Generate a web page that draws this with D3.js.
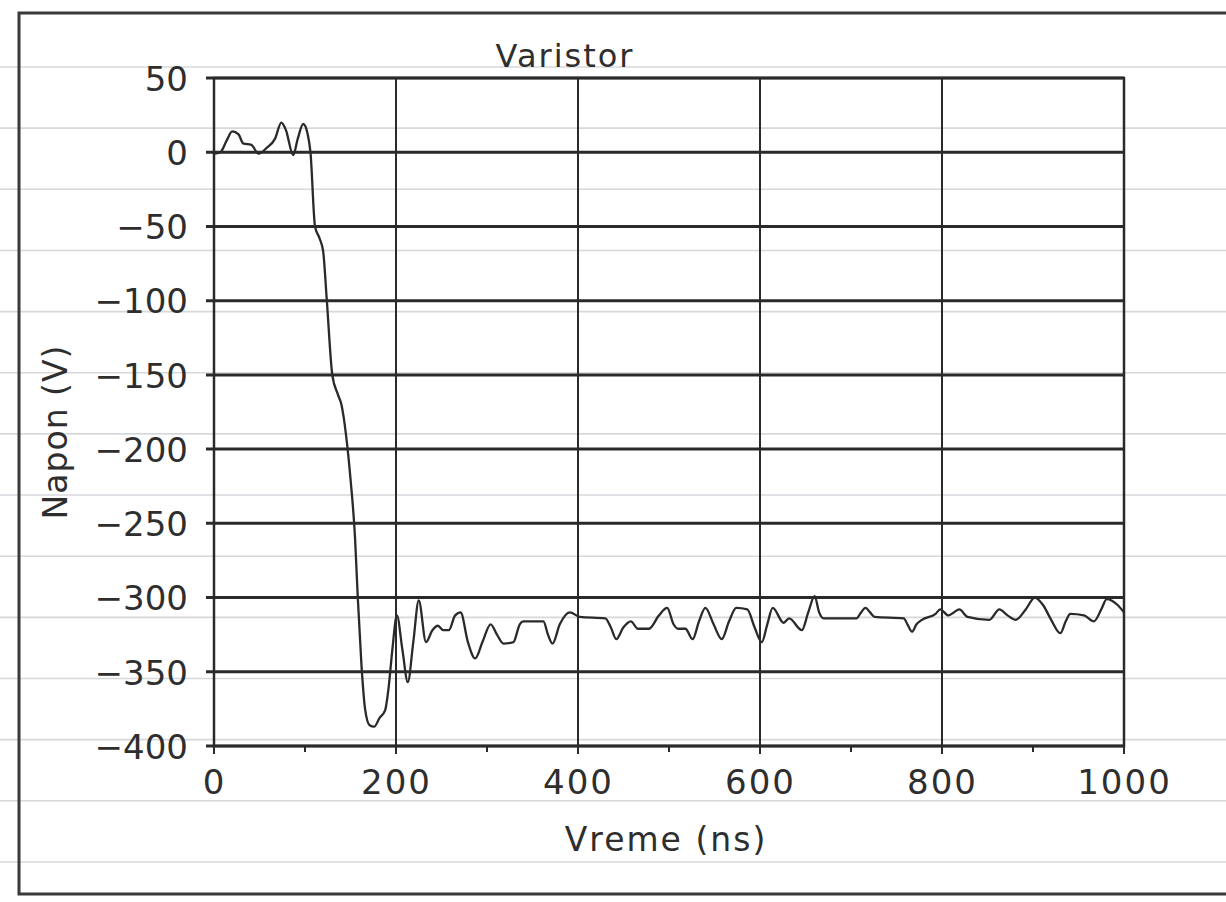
<!DOCTYPE html>
<html>
<head>
<meta charset="utf-8">
<script src="https://cdn.jsdelivr.net/npm/d3@7"></script>
<style>
  html, body { margin: 0; padding: 0; background: #ffffff; }
  svg { display: block; }
  text { font-family: "DejaVu Sans", "Liberation Sans", sans-serif; fill: #2e2e2e; }
</style>
</head>
<body>
<svg id="chart" width="1226" height="902"></svg>
<script>
// ---------------- data ----------------
const titleText = "Varistor";
const xLabelText = "Vreme (ns)";
const yLabelText = "Napon (V)";

const xTicks = [0, 200, 400, 600, 800, 1000];
const xMinorTicks = [100, 300, 500, 700, 900];
const yTicks = [50, 0, -50, -100, -150, -200, -250, -300, -350, -400];

const timeNs = [
  0, 7, 14, 20, 27, 32, 41, 49, 58, 67, 74, 79, 87, 92, 98, 103, 106,
  111, 116, 120, 124, 130, 136, 140, 145, 150, 155, 158, 162, 166, 171, 176, 182, 188,
  192, 196, 201, 207, 213, 219, 225, 233, 240, 246, 252, 258, 265, 271, 279, 287, 295,
  304, 311, 318, 329, 336, 340, 362, 367, 372, 380, 391, 402,
  430, 436, 442, 450, 458, 466, 478, 489, 498, 505, 510, 518, 526, 533, 540, 549, 558,
  566, 574, 586, 594, 602, 608, 614, 626, 632, 646, 653, 660, 665, 670, 706, 711, 716,
  721, 726, 758, 762, 767, 772, 778, 793, 798, 807, 813, 819, 828, 852, 863, 872, 881,
  892, 902, 911, 920, 930, 936, 941, 956, 967, 975, 981, 993, 1000
];
const voltage = [
  -1, 0, 8, 14, 12, 6, 5, -1, 3, 9, 20, 15, -2, 9, 19, 12, 0,
  -50, -58, -67, -100, -150, -163, -170, -190, -220, -260, -300, -345, -375, -386, -387, -381, -376,
  -360, -335, -312, -335, -357, -330, -302, -330, -322, -319, -322, -322, -312, -310, -330, -341, -330,
  -318, -325, -331, -330, -318, -316, -316, -325, -331, -318, -310, -313,
  -314, -320, -328, -320, -316, -321, -321, -312, -307, -318, -321, -321, -328, -316, -307, -318, -328,
  -316, -307, -308, -320, -330, -318, -307, -317, -314, -322, -310, -299, -310, -314, -314, -310, -307,
  -310, -313, -314, -318, -323, -318, -315, -311, -308, -312, -310, -308, -313, -315, -308, -312, -315,
  -308, -300, -305, -315, -324, -316, -311, -312, -316, -308, -301, -305, -310
];

// ---------------- drawing ----------------
const W = 1226, H = 902;
const svg = d3.select("#chart");

const x = d3.scaleLinear().domain([0, 1000]).range([214, 1124]);
const y = d3.scaleLinear().domain([-400, 50]).range([746, 78]);

// notebook-paper ruling of the scanned page
const ruling = d3.range(0, 14).map(i => 67 + i * 61.15);
svg.append("g").selectAll("line").data(ruling).join("line")
  .attr("x1", 0).attr("x2", W)
  .attr("y1", d => d).attr("y2", d => d)
  .attr("stroke", "#d6d8dc").attr("stroke-width", 1.6);

// outer frame of the figure (runs off the right edge)
svg.append("path")
  .attr("d", `M${W + 10},13 L19,13 L19,894 L${W + 10},894`)
  .attr("fill", "none").attr("stroke", "#3a3a3a").attr("stroke-width", 3);

// plot frame
const [x0, x1] = x.range();
const [yb, yt] = y.range();
svg.append("rect")
  .attr("x", x0).attr("y", yt).attr("width", x1 - x0).attr("height", yb - yt)
  .attr("fill", "none").attr("stroke", "#2c2c2c").attr("stroke-width", 2.5);

// horizontal grid lines (extend outward as ticks)
svg.append("g").selectAll("line").data(yTicks).join("line")
  .attr("x1", x0 - 8).attr("x2", x1)
  .attr("y1", d => y(d)).attr("y2", d => y(d))
  .attr("stroke", "#2a2a2a").attr("stroke-width", 3);

// vertical grid lines (extend below as ticks)
svg.append("g").selectAll("line").data(xTicks).join("line")
  .attr("x1", d => x(d)).attr("x2", d => x(d))
  .attr("y1", yt).attr("y2", yb + 8)
  .attr("stroke", "#2a2a2a").attr("stroke-width", 2);

// minor x ticks
svg.append("g").selectAll("line").data(xMinorTicks).join("line")
  .attr("x1", d => x(d)).attr("x2", d => x(d))
  .attr("y1", yb).attr("y2", yb + 6)
  .attr("stroke", "#2a2a2a").attr("stroke-width", 2);

// axes for tick labels
const yAxis = d3.axisLeft(y).tickValues(yTicks).tickFormat(d3.format("d"))
  .tickSize(0).tickPadding(26);
const gy = svg.append("g").attr("transform", `translate(${x0},0)`).call(yAxis);
gy.select(".domain").remove();
gy.selectAll("text").style("font-size", "34px").attr("dy", "0.36em")
  .style("font-family", '"DejaVu Sans", sans-serif').attr("fill", "#2e2e2e");

const xAxis = d3.axisBottom(x).tickValues(xTicks).tickFormat(d3.format("d"))
  .tickSize(0).tickPadding(24);
const gx = svg.append("g").attr("transform", `translate(0,${yb})`).call(xAxis);
gx.select(".domain").remove();
gx.selectAll("text").style("font-size", "34px")
  .style("font-family", '"DejaVu Sans", sans-serif').attr("fill", "#2e2e2e")
  .attr("letter-spacing", "2px");

// data trace
const line = d3.line()
  .x((d, i) => x(timeNs[i]))
  .y(d => y(d))
  .curve(d3.curveMonotoneX);
svg.append("path")
  .datum(voltage)
  .attr("d", line)
  .attr("fill", "none")
  .attr("stroke", "#2a2a2a")
  .attr("stroke-width", 2.3)
  .attr("stroke-linejoin", "round");

// title and axis labels
svg.append("text")
  .attr("x", 565).attr("y", 67)
  .attr("text-anchor", "middle")
  .style("font-size", "32px").attr("letter-spacing", "2px")
  .text(titleText);

svg.append("text")
  .attr("x", 666).attr("y", 851)
  .attr("text-anchor", "middle")
  .style("font-size", "33px").attr("letter-spacing", "2px")
  .text(xLabelText);

svg.append("text")
  .attr("transform", "translate(67,432) rotate(-90)")
  .attr("text-anchor", "middle")
  .style("font-size", "33px").attr("letter-spacing", "1px")
  .text(yLabelText);
</script>
</body>
</html>
